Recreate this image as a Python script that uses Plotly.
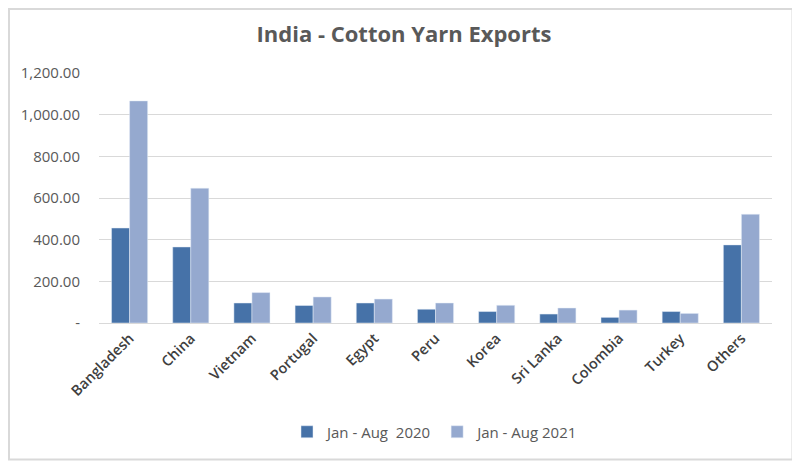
import plotly.graph_objects as go

countries = ["Bangladesh", "China", "Vietnam", "Portugal", "Egypt", "Peru",
             "Korea", "Sri Lanka", "Colombia", "Turkey", "Others"]
exports_2020 = [456, 365, 96, 84, 96, 66, 55, 43, 27, 55, 375]
exports_2021 = [1066, 647, 146, 125, 115, 96, 85, 72, 62, 46, 522]
y_tickvals = [0, 200, 400, 600, 800, 1000, 1200]
y_ticktext = ["-", "200.00", "400.00", "600.00", "800.00", "1,000.00", "1,200.00"]

# page has an 8px body margin; lay the figure out in window coordinates minus it
O = 8
W, H = 800 - O, 467 - O
L, R, T, B = 99 - O, 772 - O, 73 - O, 323 - O

fig = go.Figure()
fig.add_trace(go.Bar(name="Jan - Aug  2020", x=countries, y=exports_2020,
                     marker=dict(color="#4672A8")))
fig.add_trace(go.Bar(name="Jan - Aug 2021", x=countries, y=exports_2021,
                     marker=dict(color="#95A9CF")))

def px(x):
    return (x - O - L) / (R - L)

def py(y):
    return (B - (y - O)) / (B - T)

fig.update_layout(
    width=W, height=H,
    margin=dict(l=L, r=W - R, t=T, b=H - B, pad=0, autoexpand=False),
    paper_bgcolor="white", plot_bgcolor="white",
    barmode="group", bargap=0.41, bargroupgap=0,
    title=dict(text="<b>India - Cotton Yarn Exports</b>", x=0.5, xanchor="center",
               y=1 - (34 - O) / H, yanchor="middle",
               font=dict(family="Open Sans", size=22, color="#595959")),
    font=dict(family="Open Sans", color="#595959"),
    xaxis=dict(tickangle=-45, tickfont=dict(size=14.5, color="#404040", weight=600),
               showgrid=False, showline=True, linecolor="#D9D9D9", linewidth=1.3,
               ticks="", automargin=False),
    yaxis=dict(range=[0, 1200], tickvals=y_tickvals, ticktext=y_ticktext,
               tickfont=dict(size=15, color="#595959"),
               showgrid=True, gridcolor="#D9D9D9", gridwidth=1.3,
               zeroline=False, showline=False, ticks="", ticklen=0,
               ticklabelstandoff=18, automargin=False),
    legend=dict(orientation="h", x=0.5, xanchor="center",
                yref="container", y=1 - (432 - O) / H, yanchor="middle",
                font=dict(size=15, color="#595959"), itemwidth=30,
                traceorder="normal"),
    showlegend=True,
    shapes=[dict(type="rect", xref="paper", yref="paper",
                 x0=px(O + 1), x1=px(792.5), y0=py(459.5), y1=py(O + 1),
                 line=dict(color="#D9D9D9", width=2), fillcolor="rgba(0,0,0,0)",
                 layer="below")],
)

fig.write_html("out.html")
